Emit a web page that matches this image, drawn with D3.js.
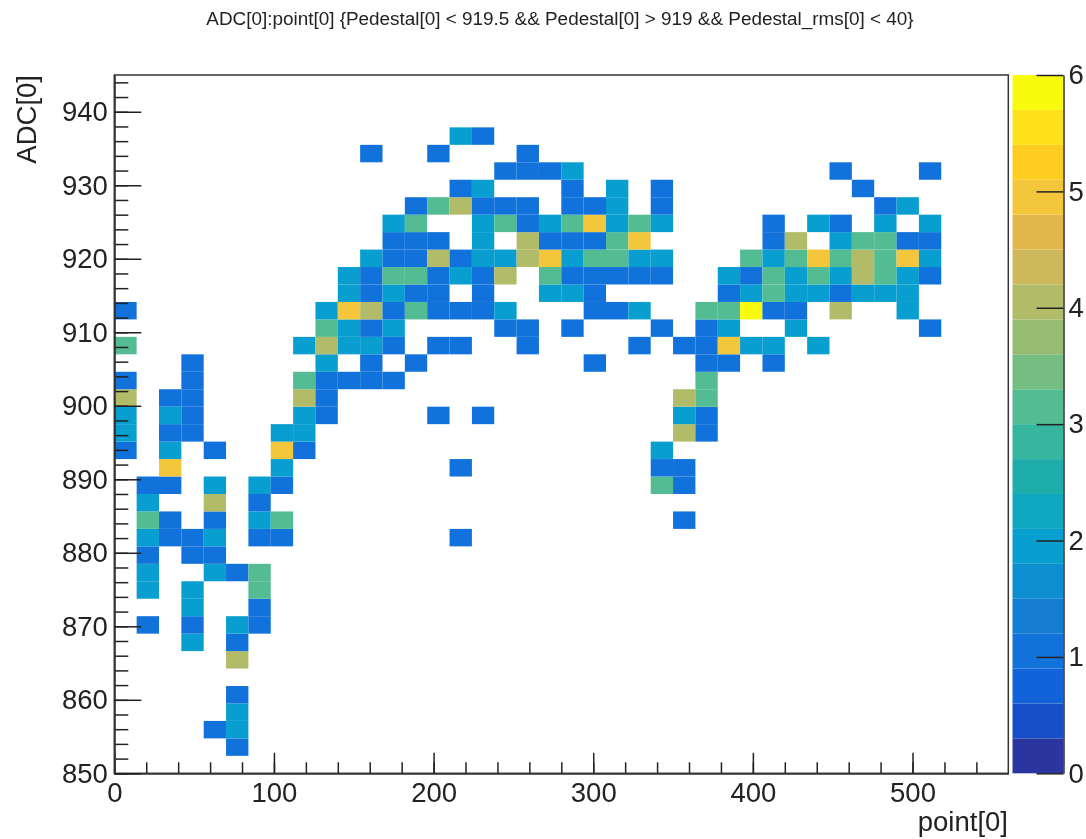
<!DOCTYPE html>
<html lang="en">
<head>
    <meta charset="UTF-8">
    <title>ADC[0]:point[0]</title>
    <script src="https://d3js.org/d3.v7.min.js"></script>
    <style>
        html, body{
            margin: 0;
            background: #fff;
        }
        svg{
            display: block;
            filter: blur(0.7px);
            font-family: "Liberation Sans", sans-serif;
            fill: #222;
        }
        .domain{
            stroke: #333;
            stroke-width: 1.5px;
        }
        .tick line{
            stroke: #222;
            stroke-width: 1.5px;
        }
        .tick text{
            font-size: 27.5px;
            fill: #222;
        }
    </style>
</head>
<body>
<svg id="fig" width="1086" height="839"></svg>

<script>
    const titleText = "ADC[0]:point[0] {Pedestal[0] < 919.5 && Pedestal[0] > 919 && Pedestal_rms[0] < 40}"
    const xLabel = "point[0]"
    const yLabel = "ADC[0]"

    // 40 x 40 bins, as in the TH2 that ROOT made
    const xBins = d3.range(0, 561, 14)
    const yBins = d3.range(0, 41).map(function (i) { return 850 + i * 2.375 })

    const xTicks = [0, 100, 200, 300, 400, 500]
    const xMinorTicks = d3.range(0, 541, 20)
    const yTicks = [850, 860, 870, 880, 890, 900, 910, 920, 930, 940]
    const yMinorTicks = d3.range(850, 945, 2)
    const zTicks = [0, 1, 2, 3, 4, 5, 6]

    // palette bands of the colour bar, bottom to top
    const bands = ["#2a35a0", "#174fc8", "#1263d9", "#1172db", "#137dd2", "#0d8ed0",
        "#089ecf", "#0ea7bf", "#1fadab", "#36b59f", "#54bc92", "#75bd80", "#96bc72",
        "#b2bc68", "#cdb95c", "#e2b84c", "#f4c63c", "#ffcd20", "#fee11a", "#f9fb0e"]

    // entries per y bin: [x bin, count]
    const rowCells = {
        1: [[5,1]],
        2: [[4,1],[5,2]],
        3: [[5,2]],
        4: [[5,1]],
        6: [[5,4]],
        7: [[3,2],[5,1]],
        8: [[1,1],[3,1],[5,2],[6,1]],
        9: [[3,2],[6,1]],
        10: [[1,2],[3,2],[6,3]],
        11: [[1,2],[4,2],[5,1],[6,3]],
        12: [[1,1],[3,1],[4,1]],
        13: [[1,2],[2,1],[3,1],[4,2],[6,1],[7,1],[15,1]],
        14: [[1,3],[2,1],[4,1],[6,2],[7,3],[25,1]],
        15: [[1,2],[4,4],[6,1]],
        16: [[1,1],[2,1],[4,2],[6,2],[7,1],[24,3],[25,1]],
        17: [[2,5],[7,2],[15,1],[24,1],[25,1]],
        18: [[0,1],[2,2],[4,1],[7,5],[8,1],[24,2]],
        19: [[0,2],[2,1],[3,1],[7,2],[8,2],[25,4],[26,1]],
        20: [[0,2],[2,2],[3,1],[8,2],[9,1],[14,1],[16,1],[25,2],[26,1]],
        21: [[0,4],[2,1],[3,1],[8,4],[9,1],[25,4],[26,3]],
        22: [[0,1],[3,1],[8,3],[9,1],[10,1],[11,1],[12,1],[26,3]],
        23: [[3,1],[9,2],[11,1],[13,1],[21,1],[26,1],[27,1],[29,1]],
        24: [[0,3],[8,2],[9,4],[10,2],[11,2],[12,1],[14,1],[15,1],[18,1],[23,1],[25,1],[26,1],[27,5],[28,2],[29,2],[31,2]],
        25: [[9,3],[10,2],[11,1],[12,2],[17,1],[18,1],[20,1],[24,1],[26,1],[27,2],[30,2],[36,1]],
        26: [[0,1],[9,2],[10,5],[11,4],[12,1],[13,3],[14,1],[15,1],[16,1],[17,2],[21,1],[22,1],[23,2],[26,3],[27,3],[28,6],[29,1],[30,1],[32,4],[35,2]],
        27: [[10,2],[11,1],[12,2],[13,1],[14,1],[16,1],[19,2],[20,2],[21,1],[27,1],[28,2],[29,3],[30,2],[31,2],[32,1],[33,2],[34,2],[35,2]],
        28: [[10,2],[11,1],[12,3],[13,3],[14,1],[15,2],[16,1],[17,4],[19,3],[20,1],[21,1],[22,1],[23,1],[24,1],[27,2],[28,1],[29,3],[30,2],[31,3],[32,2],[33,4],[34,3],[35,2],[36,1]],
        29: [[11,2],[12,1],[13,1],[14,4],[15,1],[16,2],[17,2],[18,4],[19,5],[20,2],[21,3],[22,3],[23,2],[24,2],[28,3],[29,2],[30,3],[31,5],[32,3],[33,4],[34,3],[35,5],[36,2]],
        30: [[12,1],[13,1],[14,1],[16,2],[18,4],[19,1],[20,1],[21,1],[22,3],[23,5],[29,1],[30,4],[32,2],[33,3],[34,3],[35,1],[36,1]],
        31: [[12,2],[13,3],[16,2],[17,3],[18,1],[19,2],[20,3],[21,5],[22,2],[23,3],[24,2],[29,1],[31,2],[32,1],[34,2],[36,2]],
        32: [[13,1],[14,3],[15,4],[16,1],[17,1],[18,1],[20,1],[21,1],[22,2],[24,1],[34,1],[35,2]],
        33: [[15,1],[16,2],[20,1],[22,2],[24,1],[33,1]],
        34: [[17,1],[18,1],[19,1],[20,2],[32,1],[36,1]],
        35: [[11,1],[14,1],[18,1]],
        36: [[15,2],[16,1]]
    }

    let svg = d3.select("#fig")

    let x = d3.scaleLinear().domain([0, 560]).range([114.3, 1008.3])
    let y = d3.scaleLinear().domain([850, 945]).range([773.3, 75])
    let z = d3.scaleLinear().domain([0, 6]).range([773.3, 75])
    let color = d3.scaleQuantize().domain([0, 6]).range(bands)

    // flat list of the filled bins
    let cells = []
    Object.keys(rowCells).forEach(function (row) {
        rowCells[row].forEach(function (c) {
            cells.push({col: c[0], row: +row, count: c[1]})
        })
    })

    svg.append("g")
        .selectAll("rect")
        .data(cells)
        .enter()
        .append("rect")
        .attr("x", function (d) { return x(xBins[d.col]) })
        .attr("y", function (d) { return y(yBins[d.row + 1]) })
        .attr("width", function (d) { return x(xBins[d.col + 1]) - x(xBins[d.col]) })
        .attr("height", function (d) { return y(yBins[d.row]) - y(yBins[d.row + 1]) })
        .attr("fill", function (d) { return color(d.count) })

    // colour bar
    let bandStep = 6 / bands.length
    svg.append("g")
        .selectAll("rect")
        .data(bands)
        .enter()
        .append("rect")
        .attr("x", 1012.5)
        .attr("width", 51)
        .attr("y", function (d, i) { return z((i + 1) * bandStep) })
        .attr("height", function (d, i) { return z(i * bandStep) - z((i + 1) * bandStep) })
        .attr("fill", function (d) { return d })

    // frame
    svg.append("rect")
        .attr("x", x(0))
        .attr("y", y(945))
        .attr("width", x(560) - x(0))
        .attr("height", y(850) - y(945))
        .attr("fill", "none")
        .attr("stroke", "#333")
        .attr("stroke-width", 1.5)

    // minor ticks first, then the major ones with labels
    svg.append("g")
        .attr("transform", "translate(0," + y(850) + ")")
        .call(d3.axisBottom(x).tickValues(xMinorTicks).tickSize(-11).tickSizeOuter(0).tickFormat(""))
    svg.append("g")
        .attr("transform", "translate(0," + y(850) + ")")
        .call(d3.axisBottom(x).tickValues(xTicks).tickSize(-20.5).tickSizeOuter(0).tickPadding(9).tickFormat(d3.format("d")))

    svg.append("g")
        .attr("transform", "translate(" + x(0) + ",0)")
        .call(d3.axisLeft(y).tickValues(yMinorTicks).tickSize(-14).tickSizeOuter(0).tickFormat(""))
    svg.append("g")
        .attr("transform", "translate(" + x(0) + ",0)")
        .call(d3.axisLeft(y).tickValues(yTicks).tickSize(-27).tickSizeOuter(0).tickPadding(6.5).tickFormat(d3.format("d")))

    svg.append("g")
        .attr("transform", "translate(1063.5,0)")
        .call(d3.axisRight(z).tickValues(zTicks).tickSize(-27).tickSizeOuter(0).tickPadding(5).tickFormat(d3.format("d")))

    // titles
    svg.append("text")
        .attr("x", 560)
        .attr("y", 25)
        .attr("text-anchor", "middle")
        .style("font-size", "18.9px")
        .text(titleText)

    svg.append("text")
        .attr("x", 1008)
        .attr("y", 831)
        .attr("text-anchor", "end")
        .style("font-size", "27.5px")
        .text(xLabel)

    svg.append("text")
        .attr("transform", "translate(36,75) rotate(-90)")
        .attr("text-anchor", "end")
        .style("font-size", "27.5px")
        .text(yLabel)
</script>
</body>
</html>
